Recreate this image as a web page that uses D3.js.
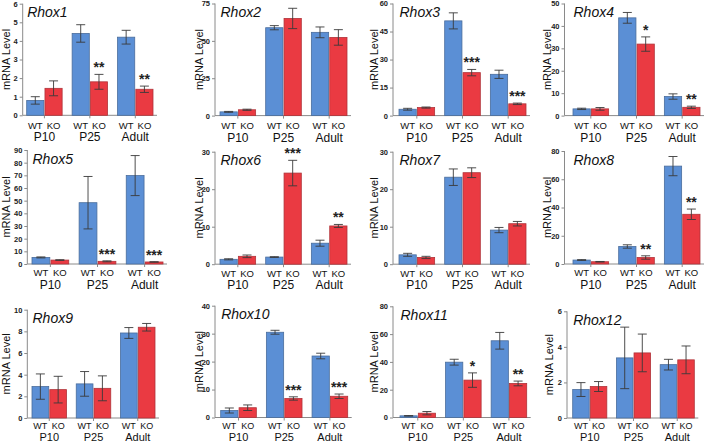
<!DOCTYPE html>
<html><head><meta charset="utf-8">
<script src="https://cdn.jsdelivr.net/npm/d3@7"></script>
<style>body{margin:0;background:#fff}svg{display:block}</style>
</head><body>
<svg id="c" width="705" height="443"></svg>
<script>
// ---------- DATA ----------
const genes = ["Rhox1","Rhox2","Rhox3","Rhox4","Rhox5","Rhox6","Rhox7","Rhox8","Rhox9","Rhox10","Rhox11","Rhox12"];
const groups = ["P10","P25","Adult"];
const genotypes = ["WT","KO"];
const wtMean = [[0.8,4.4,4.2],[2.5,58.8,55.7],[3.4,50.7,22.1],[3.0,43.6,8.5],[5.2,48.4,69.8],[1.3,1.9,5.6],
                [2.5,23.2,9.1],[2.8,12.4,69.3],[2.9,3.15,7.85],[2.5,30.5,22.0],[1.2,39.8,55.2],[1.6,3.38,3.0]];
const wtErr  = [[0.2,0.47,0.37],[0.3,1.4,3.6],[0.5,4.3,2.2],[0.3,2.4,1.2],[0.4,20.7,15.8],[0.15,0.1,0.8],
                [0.4,2.2,0.7],[0.3,1.2,6.8],[1.17,1.14,0.5],[0.9,0.7,1.0],[0.2,2.1,6.0],[0.39,1.73,0.3]];
const koMean = [[1.45,1.8,1.4],[3.9,65.0,52.3],[4.3,23.0,6.3],[3.0,31.9,3.7],[3.1,2.1,1.6],[2.1,24.3,10.2],
                [1.8,24.4,10.8],[1.6,4.6,35.2],[2.62,2.74,8.38],[3.5,6.8,7.6],[3.1,26.9,24.5],[1.77,3.66,3.27]];
const koErr  = [[0.4,0.4,0.17],[0.4,6.8,5.2],[0.3,1.7,0.4],[0.6,3.2,0.5],[0.3,0.4,0.2],[0.35,3.4,0.4],
                [0.3,1.3,0.6],[0.2,1.2,3.7],[1.23,1.15,0.35],[1.0,0.6,0.8],[1.2,5.2,1.7],[0.28,1.06,0.78]];
const koStars = [["","**","**"],["","",""],["","***","***"],["","*","**"],["","***","***"],["","***","**"],
                 ["","",""],["","**","**"],["","",""],["","***","***"],["","*","**"],["","",""]];
const yMax = [6,75,60,50,90,30,30,80,10,40,80,6];
const yStep = [1,25,15,10,10,10,10,20,2,10,20,2];
const yLabel = "mRNA Level";

// ---------- LAYOUT (pixels) ----------
// [axisX, topY, baseY, barStart, barEnd, ylabelX]
const layout = [
  [22.7, 3.7, 115.3, 26.7, 153, 6],
  [215, 3.5, 115.6, 220, 347, 199],
  [393, 3.5, 115.6, 399, 526, 374],
  [564.5, 3.5, 115.6, 573, 700, 547],
  [27.3, 150, 264, 32, 163, 6],
  [215, 151.7, 264.2, 220, 347, 199],
  [393, 151.7, 264.2, 399, 526, 374],
  [564.5, 151, 264, 573, 700, 547],
  [27.3, 309.7, 418, 32, 155, 6],
  [215, 305.7, 417.5, 220.7, 347.7, 199],
  [393, 306.3, 417.5, 400, 526.7, 374],
  [567, 311.3, 418, 572.7, 694.3, 549]
];
// per-row genotype/age label offsets below the baseline and font sizes
const rowLabels = [
  {gt:13.2, grp:26, gtSize:9.5, grpSize:12},
  {gt:12.3, grp:24.5, gtSize:9.5, grpSize:12},
  {gt:11.2, grp:23.0, gtSize:9, grpSize:11}
];
const colors = {WT:"#5b8fd5", KO:"#ea3a42"};
const strokes = {WT:"#4a6d9c", KO:"#b0343a"};

const svg = d3.select("#c");
const font = "Arial, 'Liberation Sans', Helvetica, sans-serif";

genes.forEach((gene, i) => {
  const [ax, top, base, b0, b1, ylx] = layout[i];
  const rl = rowLabels[Math.floor(i / 4)];
  const g = svg.append("g");
  const y = d3.scaleLinear().domain([0, yMax[i]]).range([base, top]);
  const xg = d3.scaleBand().domain(groups).range([b0, b1]).paddingInner(0.22).paddingOuter(0);
  const xs = d3.scaleBand().domain(genotypes).range([0, xg.bandwidth()]).paddingInner(0.06);

  const rows = [];
  groups.forEach((grp, j) => {
    rows.push({grp, gt:"WT", v:wtMean[i][j], e:wtErr[i][j], star:""});
    rows.push({grp, gt:"KO", v:koMean[i][j], e:koErr[i][j], star:koStars[i][j]});
  });

  // y axis
  const ticks = d3.range(0, yMax[i] + yStep[i]/2, yStep[i]);
  const yAxis = d3.axisLeft(y).tickValues(ticks).tickSize(3).tickPadding(2).tickFormat(d3.format("d"));
  const ya = g.append("g").attr("transform", `translate(${ax},0)`).call(yAxis);
  ya.select(".domain").attr("stroke", "#8a8a8a").attr("d", `M0,${y(yMax[i])}V${base}`);
  ya.selectAll(".tick line").attr("stroke", "#8a8a8a");
  ya.selectAll(".tick text").attr("font-family", font).attr("font-size", 7.5).attr("font-weight", "bold").attr("fill", "#222");

  // x axis line
  g.append("line").attr("x1", ax).attr("x2", Math.min(b1 + 4, 705)).attr("y1", base).attr("y2", base)
    .attr("stroke", "#8a8a8a");
  // small separator ticks between genotypes
  groups.forEach(grp => {
    const cx = xg(grp) + xs("KO") - (xs.step() - xs.bandwidth())/2;
    g.append("line").attr("x1", cx).attr("x2", cx).attr("y1", base).attr("y2", base + 3).attr("stroke", "#8a8a8a");
  });

  // bars
  g.selectAll("rect.bar").data(rows).enter().append("rect")
    .attr("x", d => xg(d.grp) + xs(d.gt))
    .attr("y", d => y(d.v))
    .attr("width", xs.bandwidth())
    .attr("height", d => base - y(d.v))
    .attr("fill", d => colors[d.gt])
    .attr("stroke", d => strokes[d.gt])
    .attr("stroke-width", 0.8);

  // error bars
  const eb = g.selectAll("g.eb").data(rows).enter().append("g")
    .attr("transform", d => `translate(${xg(d.grp) + xs(d.gt) + xs.bandwidth()/2},0)`);
  eb.append("line").attr("x1", 0).attr("x2", 0).attr("y1", d => y(d.v + d.e)).attr("y2", d => y(Math.max(0, d.v - d.e)))
    .attr("stroke", "#3a3a3a").attr("stroke-width", 0.9);
  eb.append("line").attr("x1", -4.5).attr("x2", 4.5).attr("y1", d => y(d.v + d.e)).attr("y2", d => y(d.v + d.e))
    .attr("stroke", "#3a3a3a").attr("stroke-width", 0.9);
  eb.append("line").attr("x1", -4.5).attr("x2", 4.5).attr("y1", d => y(Math.max(0, d.v - d.e))).attr("y2", d => y(Math.max(0, d.v - d.e)))
    .attr("stroke", "#3a3a3a").attr("stroke-width", 0.9);

  // stars
  eb.filter(d => d.star).append("text")
    .attr("x", 0).attr("y", d => y(d.v + d.e) - 2)
    .attr("text-anchor", "middle").attr("font-family", font).attr("font-size", 14).attr("font-weight", "bold")
    .attr("fill", "#222").text(d => d.star);

  // genotype labels
  rows.forEach(d => {
    g.append("text").attr("x", xg(d.grp) + xs(d.gt) + xs.bandwidth()/2).attr("y", base + rl.gt)
      .attr("text-anchor", "middle").attr("font-family", font).attr("font-size", rl.gtSize).attr("fill", "#111").text(d.gt);
  });
  // group labels
  groups.forEach(grp => {
    g.append("text").attr("x", xg(grp) + xg.bandwidth()/2).attr("y", base + rl.grp)
      .attr("text-anchor", "middle").attr("font-family", font).attr("font-size", rl.grpSize).attr("fill", "#111").text(grp);
  });

  // title
  g.append("text").attr("x", b0 + 0.5).attr("y", top + 13.5).attr("font-family", font).attr("font-size", 14)
    .attr("font-style", "italic").attr("fill", "#111").text(gene);

  // y label
  g.append("text").attr("transform", `translate(${ylx + 4},${(top + base)/2}) rotate(-90)`)
    .attr("text-anchor", "middle").attr("font-family", font).attr("font-size", 11).attr("fill", "#111").text(yLabel);
});
</script>
</body></html>
